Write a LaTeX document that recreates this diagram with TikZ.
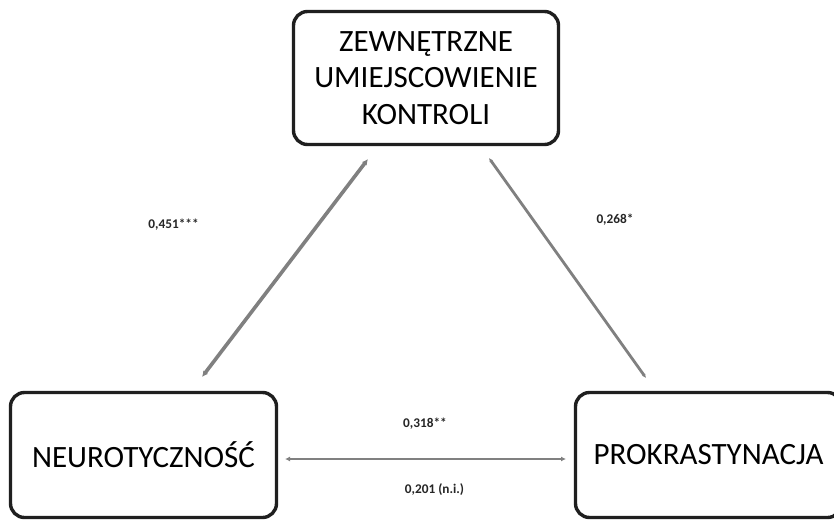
\documentclass[tikz,border=0pt]{standalone}
\usepackage{fontspec}
\setmainfont{Carlito}
\usetikzlibrary{arrows.meta}
\begin{document}
\begin{tikzpicture}[x=1pt,y=-1pt,
  box/.style={draw=black!88,line width=3.4pt,rounded corners=14pt,inner sep=0pt,
    font=\fontsize{31}{36.5}\selectfont,align=center},
  conn/.style={draw=black!50,{Latex[length=6pt,width=6pt]}-{Latex[length=6pt,width=6pt]}},
  lab/.style={font=\bfseries\fontsize{13.3}{15}\selectfont,text=black!85,inner sep=0pt}]
\useasboundingbox (0,0) rectangle (834,522);
\clip (0,0) rectangle (834,522);
\fill[white] (0,0) rectangle (834,522);
\node[box,minimum width=265pt,minimum height=133pt] (top) at (426,78)
  {ZEWNĘTRZNE\\UMIEJSCOWIENIE\\KONTROLI};
\node[box,minimum width=266pt,minimum height=125pt] (neu) at (143.5,455) {NEUROTYCZNOŚĆ};
\node[box,minimum width=266pt,minimum height=125pt] (pro) at (708.5,455) {PROKRASTYNACJA};
\coordinate (a1) at (202,377);
\coordinate (a2) at (368,159);
\coordinate (b1) at (489,158);
\coordinate (b2) at (646,378);
\coordinate (c1) at (285,459);
\coordinate (c2) at (566,459);
\draw[conn,line width=3.6pt] (a1) -- (a2);
\draw[conn,line width=2.8pt,{Latex[length=4pt,width=4pt]}-{Latex[length=4pt,width=4pt]}] (b1) -- (b2);
\draw[conn,line width=2.2pt,{Latex[length=5pt,width=5pt]}-{Latex[length=5pt,width=5pt]}] (c1) -- (c2);
\node[lab] (l1) at (173.5,225) {0,451***};
\node[lab] (l2) at (615,220) {0,268*};
\node[lab] (l3) at (425,424) {0,318**};
\node[lab] (l4) at (434.5,490) {0,201 (n.i.)};
\end{tikzpicture}
\end{document}
